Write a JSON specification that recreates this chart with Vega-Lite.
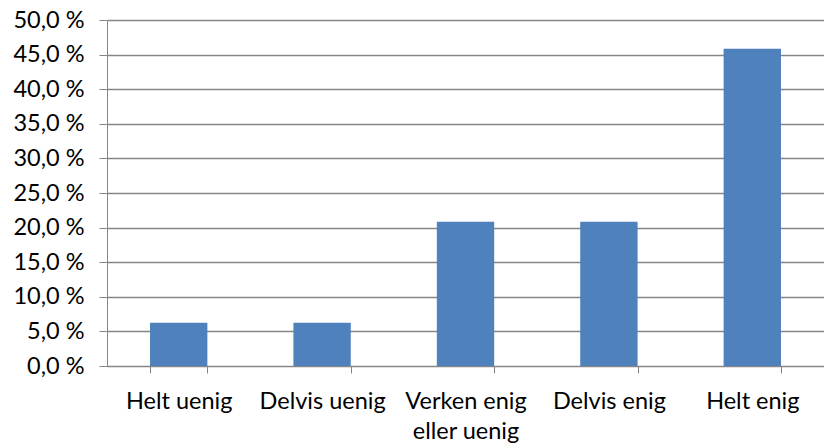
{
  "$schema": "https://vega.github.io/schema/vega-lite/v6.json",
  "autosize": {"type": "none"},
  "padding": {"left": 107, "top": 20, "right": 0, "bottom": 79},
  "width": 717,
  "height": 346,
  "background": "white",
  "data": {
    "values": [
      {"svar": "Helt uenig", "andel": 6.25},
      {"svar": "Delvis uenig", "andel": 6.25},
      {"svar": "Verken enig eller uenig", "andel": 20.83},
      {"svar": "Delvis enig", "andel": 20.83},
      {"svar": "Helt enig", "andel": 45.83}
    ]
  },
  "mark": {"type": "bar", "color": "#4F81BD"},
  "encoding": {
    "x": {
      "field": "svar",
      "type": "nominal",
      "sort": null,
      "scale": {"paddingInner": 0.6, "paddingOuter": 0.3},
      "axis": {
        "title": null,
        "labelAngle": 0,
        "tickBand": "extent",
        "tickSize": 7,
        "tickColor": "#868686",
        "domainColor": "#868686",
        "labelPadding": 16,
        "labelFont": "Lato",
        "labelFontSize": 23.5,
        "labelColor": "#000000",
        "labelLineHeight": 30,
        "labelExpr": "datum.value == 'Verken enig eller uenig' ? ['Verken enig', 'eller uenig'] : datum.value"
      }
    },
    "y": {
      "field": "andel",
      "type": "quantitative",
      "scale": {"domain": [0, 50], "nice": false},
      "axis": {
        "title": null,
        "values": [0, 5, 10, 15, 20, 25, 30, 35, 40, 45, 50],
        "tickSize": 8,
        "tickColor": "#868686",
        "domainColor": "#868686",
        "gridColor": "#868686",
        "gridWidth": 1.3,
        "labelPadding": 15,
        "labelFont": "Lato",
        "labelFontSize": 23.5,
        "labelColor": "#000000",
        "labelExpr": "replace(format(datum.value, '.1f'), '.', ',') + ' %'"
      }
    }
  },
  "config": {"view": {"stroke": null}, "axis": {"grid": true}, "axisX": {"grid": false}}
}
